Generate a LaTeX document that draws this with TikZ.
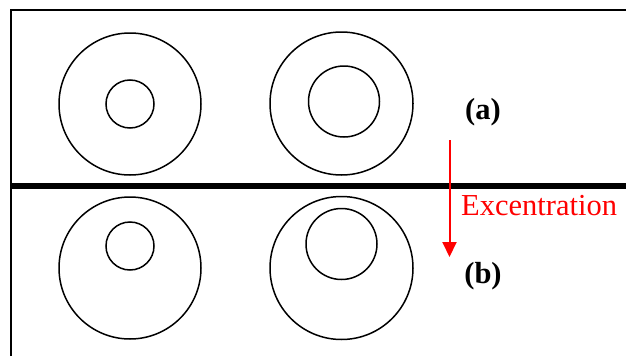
\documentclass[tikz,border=0pt]{standalone}
\usepackage{fontspec}
\setmainfont{Liberation Serif}
\usetikzlibrary{arrows.meta}
\begin{document}
\begin{tikzpicture}[x=1pt,y=-1pt,
  ring/.style={draw=black,line width=1.5pt,circle,inner sep=0pt},
  lbl/.style={font=\fontsize{30.5}{33}\selectfont\bfseries,inner sep=0pt,anchor=base},
  exc/.style={font=\fontsize{30.5}{33}\selectfont,text=red,inner sep=0pt,anchor=base west}]
\useasboundingbox (0,0) rectangle (626,356);
\draw[line width=1.5pt] (11,356) -- (11,10) -- (626,10);
\draw[line width=5.5pt] (11,186) -- (626,186);
% top row (a)
\node[ring,minimum size=142pt] (oa1) at (130,104) {};
\node[ring,minimum size=48pt] (ia1) at (130,104) {};
\node[ring,minimum size=143pt] (oa2) at (341.5,103.5) {};
\node[ring,minimum size=71pt] (ia2) at (344,101.5) {};
% bottom row (b)
\node[ring,minimum size=142pt] (ob1) at (130,268) {};
\node[ring,minimum size=48pt] (ib1) at (130,246) {};
\node[ring,minimum size=143pt] (ob2) at (341.5,268) {};
\node[ring,minimum size=71pt] (ib2) at (341.5,244) {};
% labels
\node[lbl] (la) at (483,119) {(a)};
\node[lbl] (lb) at (483,283) {(b)};
\coordinate (as) at (449.5,140);
\coordinate (ae) at (449.5,257);
\draw[red,line width=2pt,-{Triangle[length=15pt,width=14pt]}] (as) -- (ae);
\node[exc] (ex) at (461,215) {Excentration};
\end{tikzpicture}
\end{document}
